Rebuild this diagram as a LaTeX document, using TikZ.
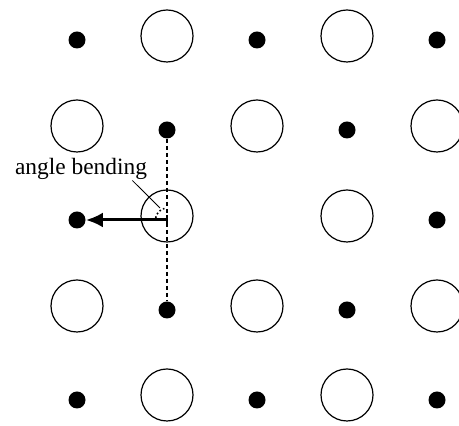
\documentclass[tikz,border=0pt]{standalone}
\usepackage{fontspec}
\setmainfont{Liberation Serif}
\usetikzlibrary{arrows.meta}

\begin{document}
\begin{tikzpicture}[x=0.5pt,y=0.5pt,
  atom/.style={circle,fill=black,inner sep=0pt,minimum size=8.5pt},
  ion/.style={circle,draw,line width=0.6pt,inner sep=0pt,minimum size=26pt}]
\clip (0,0) rectangle (459,426);

% row 1
\node[atom] (d11) at (77,386) {};
\node[ion]  (c12) at (167,390) {};
\node[atom] (d13) at (257,386) {};
\node[ion]  (c14) at (347,390) {};
\node[atom] (d15) at (437,386) {};
% row 2
\node[ion]  (c21) at (77,300) {};
\node[atom] (d22) at (167,296) {};
\node[ion]  (c23) at (257,300) {};
\node[atom] (d24) at (347,296) {};
\node[ion]  (c25) at (437,300) {};
% row 3
\node[atom] (d31) at (77,206) {};
\node[ion]  (c32) at (167,210) {};
\node[ion]  (c34) at (347,210) {};
\node[atom] (d35) at (437,206) {};
% row 4
\node[ion]  (c41) at (77,120) {};
\node[atom] (d42) at (167,116) {};
\node[ion]  (c43) at (257,120) {};
\node[atom] (d44) at (347,116) {};
\node[ion]  (c45) at (437,120) {};
% row 5
\node[atom] (d51) at (77,26) {};
\node[ion]  (c52) at (167,31) {};
\node[atom] (d53) at (257,26) {};
\node[ion]  (c54) at (347,31) {};
\node[atom] (d55) at (437,26) {};

\coordinate (vtx) at (167.5,206);
\coordinate (tip) at (160,218);

\draw[line width=0.6pt,dash pattern=on 2pt off 1.5pt] (d22) -- (d42);
\draw[line width=1.5pt,{Bar[width=5pt,line width=1pt]}-{Latex[length=8.5pt,width=7.5pt]}] (vtx) -- (d31);
\draw[line width=0.8pt,dash pattern=on 0.8pt off 1.2pt] (vtx) ++(170:6pt) arc[start angle=170,end angle=95,radius=6pt];

\node[anchor=base,inner sep=0pt,font=\fontsize{11.7}{14}\selectfont] (lbl) at (81,251) {angle bending};
\draw[line width=0.4pt] ([xshift=-7.5pt]lbl.south east) -- (tip);
\end{tikzpicture}
\end{document}
